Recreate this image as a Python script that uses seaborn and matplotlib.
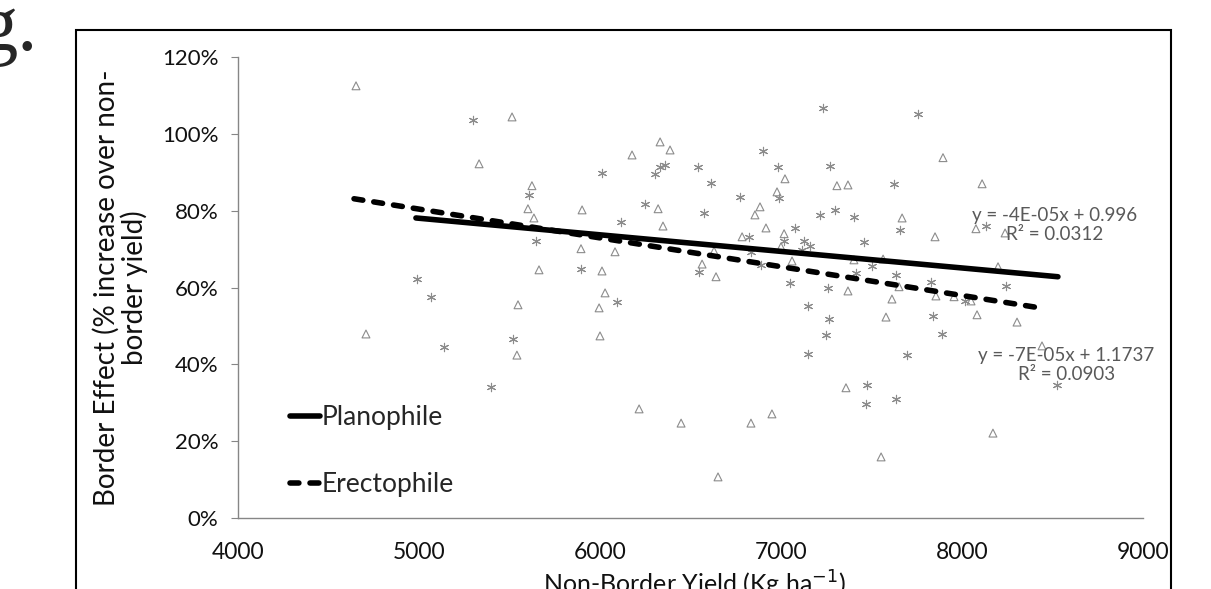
import matplotlib
matplotlib.use("Agg")
import matplotlib.pyplot as plt
from matplotlib.patches import Rectangle
import seaborn as sns
import pandas as pd

# triangles (open markers)
tri_x = [4652, 5514, 5332, 5624, 5602, 5635, 5663, 5901, 5895, 6011, 6028, 6177, 6332, 6387,
         6321, 6348, 6083, 6856, 6884, 6785, 6630, 6564, 6641, 7022, 6978, 7309, 7370, 7895,
         8111, 6917, 7669, 7851, 8077, 8238, 7017, 7000, 7061, 7403, 7564, 7652, 8199, 7370,
         7613, 7856, 7956, 8050, 8083, 8304, 8442, 8171, 7580, 7359, 6950, 6834, 7553, 5547,
         5995, 4707, 5541, 6000, 6216, 6448, 6652]
tri_y = [1.125, 1.044, 0.922, 0.865, 0.805, 0.781, 0.646, 0.802, 0.701, 0.643, 0.586, 0.945,
         0.979, 0.958, 0.805, 0.760, 0.693, 0.789, 0.810, 0.732, 0.695, 0.661, 0.628, 0.883,
         0.849, 0.865, 0.867, 0.938, 0.870, 0.755, 0.781, 0.732, 0.753, 0.742, 0.740, 0.706,
         0.669, 0.672, 0.674, 0.602, 0.654, 0.591, 0.570, 0.578, 0.576, 0.565, 0.529, 0.510,
         0.448, 0.221, 0.523, 0.339, 0.271, 0.247, 0.159, 0.555, 0.547, 0.479, 0.424, 0.474,
         0.284, 0.247, 0.107]

# asterisks
ast_x = [5298, 5608, 5646, 4989, 5066, 5895, 6011, 6332, 6359, 6304, 6249, 6116, 6542, 6613,
         6575, 6774, 6823, 6834, 6547, 7232, 7757, 6901, 6984, 7271, 6989, 7624, 7077, 7216,
         7298, 7403, 7658, 8133, 7017, 7127, 7160, 7459, 7116, 6890, 7503, 7414, 7635, 7829,
         8243, 7050, 7260, 8017, 7840, 7890, 7696, 8525, 7149, 7265, 7249, 7149, 7475, 7470,
         7635, 6094, 5138, 5519, 5398]
ast_y = [1.036, 0.841, 0.721, 0.622, 0.576, 0.648, 0.898, 0.914, 0.919, 0.896, 0.818, 0.771,
         0.914, 0.872, 0.794, 0.836, 0.732, 0.693, 0.641, 1.068, 1.052, 0.956, 0.914, 0.917,
         0.833, 0.870, 0.755, 0.789, 0.802, 0.784, 0.750, 0.760, 0.721, 0.721, 0.708, 0.719,
         0.698, 0.659, 0.656, 0.638, 0.633, 0.615, 0.604, 0.612, 0.599, 0.565, 0.526, 0.479,
         0.424, 0.346, 0.552, 0.518, 0.477, 0.427, 0.346, 0.297, 0.310, 0.5625, 0.445, 0.466,
         0.341]

# trend lines (end points)
plano_x = [4983, 8530]
plano_y = [0.781, 0.628]
erecto_x = [4641, 8403]
erecto_y = [0.831, 0.549]

x_ticks = [4000, 5000, 6000, 7000, 8000, 9000]
y_ticks = [0, 0.2, 0.4, 0.6, 0.8, 1.0, 1.2]

sns.set_style("white")
plt.rcParams['font.family'] = ['Lato', 'DejaVu Sans']

fig = plt.figure(figsize=(12.11, 5.89), dpi=100)
ax = fig.add_axes([238 / 1211, 71 / 589, 905 / 1211, 461 / 589])

grey = '#8c8c8c'
tri = pd.DataFrame({'x': tri_x, 'y': tri_y})
ast = pd.DataFrame({'x': ast_x, 'y': ast_y})
sns.scatterplot(data=tri, x='x', y='y', ax=ax, marker='^', s=32,
                facecolors='none', edgecolor=grey, linewidth=0.8, zorder=2)
sns.scatterplot(data=ast, x='x', y='y', ax=ax, marker=(6, 2, 0), s=36,
                color=grey, linewidth=0.8, zorder=2)

l1, = ax.plot(plano_x, plano_y, color='black', lw=4, solid_capstyle='round',
              label='Planophile', zorder=3)
l2, = ax.plot(erecto_x, erecto_y, color='black', lw=4, linestyle=(0, (1.6, 2.0)),
              dash_capstyle='round', label='Erectophile', zorder=3)

ax.set_xlim(4000, 9000)
ax.set_ylim(0, 1.2)
ax.set_xticks(x_ticks)
ax.set_xticklabels([str(v) for v in x_ticks])
ax.set_yticks(y_ticks)
ax.set_yticklabels([f'{int(round(v * 100))}%' for v in y_ticks])
ax.tick_params(axis='y', length=5, width=0.8, color='#868686', pad=9,
               labelsize=16, labelcolor='#111111', left=True)
ax.tick_params(axis='x', length=0, pad=17, labelsize=16.5, labelcolor='#111111')

for s in ['top', 'right']:
    ax.spines[s].set_visible(False)
for s in ['left', 'bottom']:
    ax.spines[s].set_color('#868686')
    ax.spines[s].set_linewidth(1)

ax.set_ylabel('Border Effect (% increase over non-\nborder yield)', fontsize=20,
              color='#111111', linespacing=1.0)
ax.yaxis.set_label_coords(-0.1, 0.5)
ax.set_xlabel('Non-Border Yield (Kg ha$^{-1}$)', fontsize=18, color='#111111')
ax.xaxis.set_label_coords(0.505, -0.11)

ax.legend(handles=[l1, l2], loc='lower left', bbox_to_anchor=(0.057, 0.045),
          frameon=False, handlelength=1.15, handletextpad=0.05, labelspacing=1.6,
          borderpad=0, borderaxespad=0, fontsize=19)

ax.text(8514, 0.763, 'y = -4E-05x + 0.996\nR² = 0.0312', ha='center', va='center',
        fontsize=13.5, color='#595959', linespacing=1.1)
ax.text(8575, 0.398, 'y = -7E-05x + 1.1737\nR² = 0.0903', ha='center', va='center',
        fontsize=13.5, color='#595959', linespacing=1.1)

# outer frame of the panel
fig.patches.append(Rectangle((76 / 1211, -0.05), (1171 - 76) / 1211, 1.05 - 30 / 589,
                             transform=fig.transFigure, fill=False, edgecolor='black',
                             linewidth=1.5))
fig.text(38 / 1211, 1 - 50 / 589, 'g.', ha='right', va='baseline', fontsize=58,
         family='Liberation Serif')

fig.savefig('out.png', dpi=100)
